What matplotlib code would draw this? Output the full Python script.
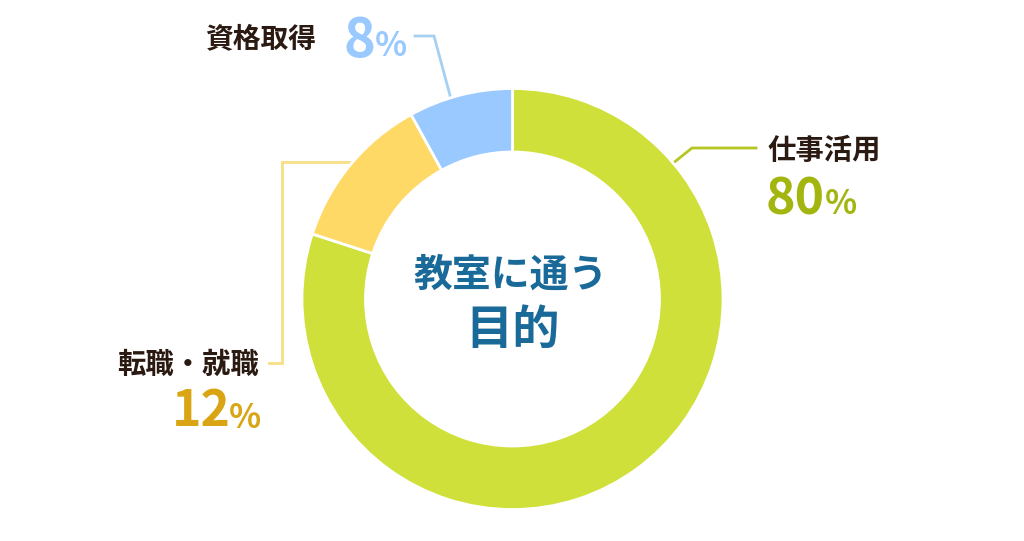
import matplotlib
matplotlib.use("Agg")
import matplotlib.pyplot as plt

plt.rcParams['font.family'] = ['Noto Sans CJK JP', 'DejaVu Sans']

categories = ['仕事活用', '転職・就職', '資格取得']
values = [80, 12, 8]
colors = ['#CFE03A', '#FFD966', '#99C9FF']
label_colors = ['#A3B50F', '#D9A514', '#99C9FF']
line_colors = ['#B5C620', '#F7DF85', '#A6D0F2']
center_lines = ['教室に通う', '目的']

W, H = 1024, 541
fig = plt.figure(figsize=(W/100, H/100), dpi=100, facecolor='white')
ax = fig.add_axes([0, 0, 1, 1])

cx, cy, R = 512.5, 299, 210.5
# y axis is inverted below, so counterclock=True reads clockwise on the page
ax.pie(values, colors=colors, startangle=-90, counterclock=True, center=(cx, cy), radius=R,
       wedgeprops=dict(width=R-147, edgecolor='white', linewidth=2, zorder=3), frame=False)
ax.set_xlim(0, W)
ax.set_ylim(H, 0)
ax.set_aspect('equal')
ax.axis('off')

dark = '#2B1A12'
ctr = '#1A6A99'
ax.text(511, 275, center_lines[0], ha='center', va='center', fontsize=28, fontweight='bold', color=ctr)
ax.text(513, 330, center_lines[1], ha='center', va='center', fontsize=34, fontweight='bold', color=ctr)

lab = dict(fontsize=20.4, fontweight='bold', color=dark)
num = dict(fontsize=36, fontweight='bold')
pct = dict(fontsize=24, fontweight='bold')

# 仕事活用
ax.plot([672, 692, 756], [164, 148, 148], color=line_colors[0], lw=2, solid_joinstyle='miter', zorder=1)
ax.text(767, 151, categories[0], ha='left', va='center', **lab)
ax.text(766, 200, str(values[0]), ha='left', va='center', color=label_colors[0], **num)
ax.text(825, 205, '%', ha='left', va='center', color=label_colors[0], **pct)

# 転職・就職
ax.plot([355, 282, 282, 269], [162, 162, 363, 363], color=line_colors[1], lw=2, solid_joinstyle='miter', zorder=1)
ax.text(259, 365, categories[1], ha='right', va='center', **lab)
ax.text(172, 412, str(values[1]), ha='left', va='center', color=label_colors[1], **num)
ax.text(229, 418, '%', ha='left', va='center', color=label_colors[1], **pct)

# 資格取得
ax.plot([415, 434, 451], [36, 36, 99], color=line_colors[2], lw=2, solid_joinstyle='miter', zorder=1)
ax.text(316, 39, categories[2], ha='right', va='center', **{**lab, 'fontsize': 20})
ax.text(344, 42, str(values[2]), ha='left', va='center', color=label_colors[2], fontsize=39, fontweight='bold')
ax.text(375, 47, '%', ha='left', va='center', color=label_colors[2], **pct)

fig.savefig('out.png', dpi=100, facecolor='white')
